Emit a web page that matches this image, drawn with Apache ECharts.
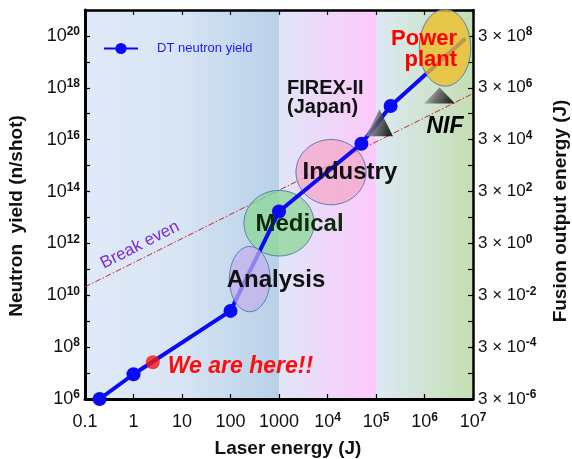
<!DOCTYPE html>
<html><head><meta charset="utf-8">
<script src="https://cdn.jsdelivr.net/npm/echarts@6/dist/echarts.min.js"></script>
<style>html,body{margin:0;padding:0;background:#fff}#c{width:572px;height:459px}</style>
</head><body><div id="c"></div>
<script>
// ---- data ----
const laserEnergy = [0.2, 1, 100, 1000, 5e4, 2e5, 7e6];
const neutronYield = [1e6, 9e6, 2.5e9, 1.7e13, 7e15, 2e17, 8e19];
const markerShown = [true, true, true, true, true, true, false];
const hereEnergy = [2.5];
const hereYield = [2.6e7];
const breakEvenEnergy = [0.1, 1e7];
const breakEvenYield = [2.1e10, 6e17];
const xTickExps = [-1, 0, 1, 2, 3, 4, 5, 6, 7];
const yTickExps = [6, 8, 10, 12, 14, 16, 18, 20];
const bandEnergy = [[0.1, 1000], [1000, 1e5], [1e5, 1e7]];
const ellipseNames = ['Medical', 'Industry', 'Analysis', 'Power plant'];
const ellipseEnergy = [1000, 1.18e4, 249, 2.65e6];
const ellipseYield = [6e12, 5.6e14, 4.2e10, 3.5e19];
const ellipseDecX = [0.722, 0.722, 0.419, 0.53];
const ellipseDecY = [1.264, 1.257, 1.257, 1.48];
const labelTexts = ['Medical', 'Industry', 'Analysis', 'FIREX-II\n(Japan)', 'NIF', 'Power\nplant', 'We are here!!', 'Break even'];
const labelEnergy = [2650, 2.9e4, 867, 1460, 2.65e6, 4.7e6, 5.1, 1.36];
const labelYield = [5.2e12, 5.4e14, 3.9e10, 3.9e17, 3.3e16, 2.9e19, 1.7e7, 8.7e11];
const triangleNames = ['FIREX-II', 'NIF'];
const triangleEnergy = [1.18e5, 2.04e6];
const triangleYield = [4.5e16, 5e17];
const xTitle = 'Laser energy (J)';
const yTitle = 'Neutron  yield (n/shot)';
const y2Title = 'Fusion output energy (J)';

// ---- styles ----
const FF = '"Liberation Sans", Arial, sans-serif';
const bandColors = [
  [['#dfe9f7', 0], ['#dae6f5', 0.45], ['#b8d0e8', 1]],
  [['#e0e6f8', 0], ['#fdc8fb', 1]],
  [['#dde9f4', 0], ['#c4deb2', 1]]
];
const ellipseFill = ['rgba(140,215,150,0.75)', 'rgba(244,168,200,0.75)', 'rgba(196,176,236,0.72)', 'rgba(238,190,40,0.78)'];
const labelStyle = [
  {fill: '#0b2a0b', fontSize: 24, fontWeight: 'bold', align: 'center'},
  {fill: '#111', fontSize: 24, fontWeight: 'bold', align: 'center'},
  {fill: '#111', fontSize: 24, fontWeight: 'bold', align: 'center'},
  {fill: '#111', fontSize: 20, fontWeight: 'bold', align: 'left', lineHeight: 19},
  {fill: '#000', fontSize: 23, fontWeight: 'bold', fontStyle: 'italic', align: 'center'},
  {fill: '#ff0000', fontSize: 22, fontWeight: 'bold', align: 'right', lineHeight: 21},
  {fill: '#ff0d0d', fontSize: 23, fontWeight: 'bold', fontStyle: 'italic', align: 'left'},
  {fill: '#7a2bd0', fontSize: 17, fontWeight: 'normal', align: 'center', rotation: 27}
];
const triSizes = [[27, 27], [31, 16]];

const sup = function (base, e) { return '{b|' + base + '}{s|' + e + '}'; };
const richL = {
  b: {fontSize: 18, fontFamily: FF, color: '#111', lineHeight: 20},
  s: {fontSize: 12, fontFamily: FF, color: '#111', verticalAlign: 'top', lineHeight: 12, fontWeight: 'bold'}
};
const richR = {
  b: {fontSize: 17, fontFamily: FF, color: '#111', lineHeight: 20},
  s: {fontSize: 12, fontFamily: FF, color: '#111', verticalAlign: 'top', lineHeight: 12, fontWeight: 'bold'}
};
const expOf = v => Math.round(Math.log10(v));

const chart = echarts.init(document.getElementById('c'), null, {renderer: 'canvas'});

function ellipseItem(idxs, z) {
  return {
    type: 'custom', xAxisIndex: 0, yAxisIndex: 0, z: z, silent: true,
    data: idxs.map(i => [ellipseEnergy[i], ellipseYield[i], ellipseDecX[i], ellipseDecY[i], i]),
    renderItem: function (params, api) {
      const x = api.value(0), y = api.value(1);
      const c = api.coord([x, y]);
      const p = api.coord([x * Math.pow(10, api.value(2)), y * Math.pow(10, api.value(3))]);
      const rx = Math.abs(p[0] - c[0]), ry = Math.abs(c[1] - p[1]);
      const pts = [];
      for (let k = 0; k < 96; k++) {
        const a = k / 96 * Math.PI * 2;
        pts.push([c[0] + rx * Math.cos(a), c[1] + ry * Math.sin(a)]);
      }
      return {type: 'polygon', shape: {points: pts}, style: {fill: ellipseFill[api.value(4)], stroke: '#4f7fae', lineWidth: 1}};
    }
  };
}
function textItem(idxs, z) {
  return {
    type: 'custom', xAxisIndex: 0, yAxisIndex: 0, z: z, silent: true,
    data: idxs.map(i => [labelEnergy[i], labelYield[i], i]),
    renderItem: function (params, api) {
      const i = api.value(2);
      const c = api.coord([api.value(0), api.value(1)]);
      const s = labelStyle[i];
      return {
        type: 'text', x: c[0], y: c[1], rotation: (s.rotation || 0) * Math.PI / 180,
        style: {text: labelTexts[i], fill: s.fill, fontSize: s.fontSize, fontWeight: s.fontWeight,
          fontStyle: s.fontStyle || 'normal', fontFamily: FF, align: s.align, verticalAlign: 'middle',
          lineHeight: s.lineHeight || s.fontSize}
      };
    }
  };
}
const titleFont = {fill: '#111', fontSize: 19, fontWeight: 'bold', fontFamily: FF, align: 'center', verticalAlign: 'middle'};

const option = {
  animation: false,
  backgroundColor: '#fff',
  grid: {left: 85, right: 99, top: 10, bottom: 60, containLabel: false},
  legend: {
    data: ['DT neutron yield'], left: 103, top: 42, padding: 0, itemWidth: 34, itemHeight: 14,
    textStyle: {color: '#1a1aff', fontSize: 13, fontFamily: FF, padding: [0, 0, 0, 14]}
  },
  graphic: [
    {type: 'text', x: 288, y: 449, style: Object.assign({text: xTitle}, titleFont)},
    {type: 'text', x: 17, y: 216, rotation: Math.PI / 2, style: Object.assign({text: yTitle}, titleFont)},
    {type: 'text', x: 561, y: 211, rotation: Math.PI / 2, style: Object.assign({text: y2Title}, titleFont)}
  ],
  xAxis: [{
    type: 'log', logBase: 10, min: 0.1, max: 1e7, interval: 1,
    axisLine: {lineStyle: {color: '#000', width: 3}},
    axisTick: {inside: true, length: 5, lineStyle: {color: '#000', width: 1.2}},
    splitLine: {show: false},
    axisLabel: {
      margin: 13, color: '#111', fontSize: 18, fontFamily: FF, rich: richL,
      formatter: function (v) {
        const e = expOf(v);
        if (e === -1) return '{b|0.1}';
        if (e <= 3) return '{b|' + Math.pow(10, e) + '}';
        return sup('10', e);
      }
    }
  }, {
    type: 'log', logBase: 10, min: 0.1, max: 1e7, interval: 1, position: 'top',
    axisLine: {lineStyle: {color: '#000', width: 2.5}},
    axisTick: {inside: true, length: 5, lineStyle: {color: '#000', width: 1.2}},
    axisLabel: {show: false}, splitLine: {show: false}
  }],
  yAxis: [{
    type: 'log', logBase: 10, min: 1e6, max: 1e21, interval: 1,
    axisLine: {lineStyle: {color: '#000', width: 3}},
    axisTick: {inside: true, length: 5, lineStyle: {color: '#000', width: 1.2}},
    splitLine: {show: false},
    axisLabel: {
      margin: 5, rich: richL,
      formatter: function (v) {
        const e = expOf(v);
        return yTickExps.indexOf(e) >= 0 ? sup('10', e) : '';
      }
    }
  }, {
    type: 'log', logBase: 10, min: 1e6, max: 1e21, interval: 1, position: 'right',
    axisLine: {lineStyle: {color: '#000', width: 2.5}},
    axisTick: {inside: true, length: 5, lineStyle: {color: '#000', width: 1.2}},
    splitLine: {show: false},
    axisLabel: {
      margin: 5, rich: richR,
      formatter: function (v) {
        const e = expOf(v);
        return yTickExps.indexOf(e) >= 0 ? sup('3 × 10', e - 12) : '';
      }
    }
  }],
  series: [
    {
      type: 'custom', xAxisIndex: 0, yAxisIndex: 0, z: 0, silent: true,
      data: bandEnergy.map((b, i) => [b[0], b[1], i]),
      renderItem: function (params, api) {
        const cs = params.coordSys;
        const x0 = api.coord([api.value(0), 1e10])[0];
        const x1 = api.coord([api.value(1), 1e10])[0];
        const stops = bandColors[api.value(2)].map(s => ({offset: s[1], color: s[0]}));
        return {type: 'rect', shape: {x: x0, y: cs.y, width: x1 - x0 + 0.5, height: cs.height},
          style: {fill: new echarts.graphic.LinearGradient(0, 0, 1, 0, stops)}};
      }
    },
    {
      type: 'line', name: 'Break even', xAxisIndex: 0, yAxisIndex: 0, z: 1, silent: true,
      data: breakEvenEnergy.map((x, i) => [x, breakEvenYield[i]]),
      symbol: 'none', lineStyle: {color: '#c42828', width: 1, type: [6, 2, 1.5, 2]}
    },
    ellipseItem([0, 1], 2),
    {
      type: 'line', name: 'DT neutron yield', xAxisIndex: 0, yAxisIndex: 0, z: 3,
      data: laserEnergy.map((x, i) => markerShown[i] ? [x, neutronYield[i]] : {value: [x, neutronYield[i]], symbol: 'none'}),
      symbol: 'circle', symbolSize: 14, showAllSymbol: true,
      lineStyle: {color: '#0a0af5', width: 4},
      itemStyle: {color: '#0a0af5'}
    },
    ellipseItem([2], 4),
    textItem([0, 1, 2], 5),
    ellipseItem([3], 6),
    {
      type: 'scatter', name: 'now', xAxisIndex: 0, yAxisIndex: 0, z: 7, silent: true,
      data: hereEnergy.map((x, i) => [x, hereYield[i]]),
      symbol: 'circle', symbolSize: 14, itemStyle: {color: '#f51515'}
    },
    {
      type: 'scatter', name: 'facilities', xAxisIndex: 0, yAxisIndex: 0, z: 7, silent: true,
      data: triangleEnergy.map((x, i) => ({value: [x, triangleYield[i]], symbolSize: triSizes[i]})),
      symbol: 'triangle',
      itemStyle: {color: new echarts.graphic.LinearGradient(0, 0, 1, 0.3, [
        {offset: 0, color: '#e4e4e4'}, {offset: 0.55, color: '#555'}, {offset: 1, color: '#000'}])}
    },
    textItem([3, 4, 5, 6, 7], 8)
  ]
};
chart.setOption(option);
</script></body></html>
